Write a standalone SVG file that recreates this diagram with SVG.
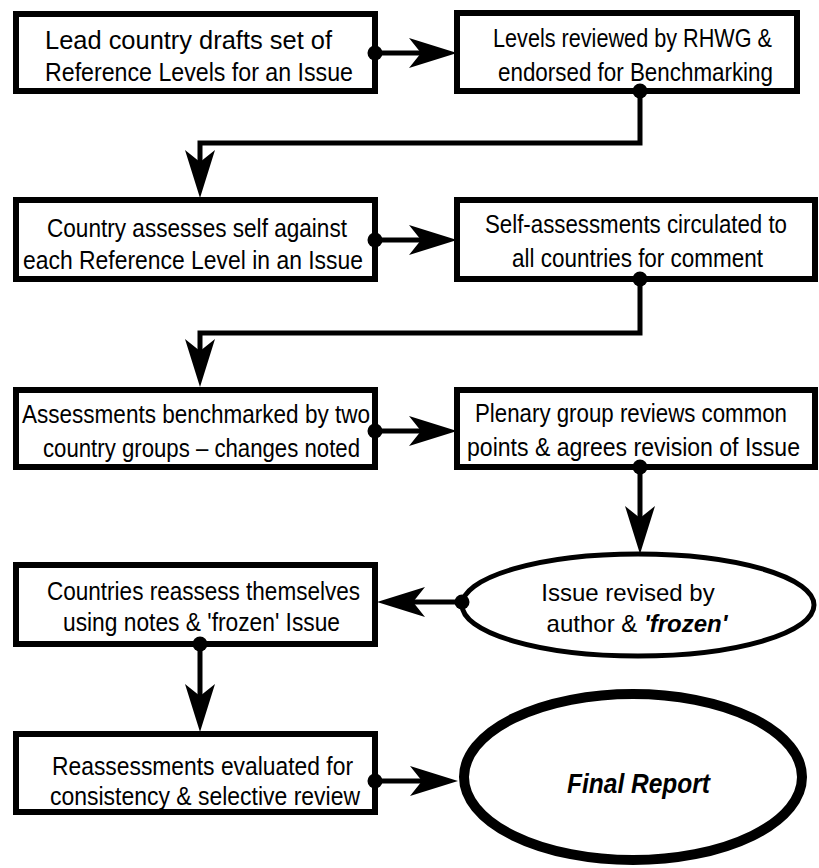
<svg xmlns="http://www.w3.org/2000/svg" width="819" height="868" viewBox="0 0 819 868">
<style>
  .box { fill: #fff; stroke: #000; stroke-width: 6; }
  .ell { fill: #fff; stroke: #000; stroke-width: 5; }
  .ellb { fill: #fff; stroke: #000; stroke-width: 10; }
  .t { font-family: "Liberation Sans", Arial, sans-serif; font-size: 25px; fill: #000; }
  .bi { font-weight: bold; font-style: italic; }
  .con { fill: none; stroke: #000; stroke-width: 5; marker-start: url(#dot); marker-end: url(#arr); }
</style>
<defs>
  <marker id="arr" markerUnits="userSpaceOnUse" markerWidth="52" markerHeight="34" viewBox="-20 -17 52 34" refX="0" refY="0" orient="auto" overflow="visible">
    <path d="M30,0 L-18,-15 L-6,0 L-18,15 Z" fill="#000"/>
  </marker>
  <marker id="dot" markerUnits="userSpaceOnUse" markerWidth="18" markerHeight="18" viewBox="-9 -9 18 18" refX="0" refY="0" orient="auto" overflow="visible">
    <circle cx="0" cy="0" r="7.5" fill="#000"/>
  </marker>
</defs>
<rect width="819" height="868" fill="#fff"/>

<g id="n1">
  <rect class="box" x="16" y="14" width="359" height="77"/>
  <text class="t" x="45" y="49" textLength="287" lengthAdjust="spacingAndGlyphs">Lead country drafts set of</text>
  <text class="t" x="45" y="81" textLength="308" lengthAdjust="spacingAndGlyphs">Reference Levels for an Issue</text>
</g>
<g id="n2">
  <rect class="box" x="457" y="13" width="340" height="78"/>
  <text class="t" x="493" y="47" textLength="279" lengthAdjust="spacingAndGlyphs">Levels reviewed by RHWG &amp;</text>
  <text class="t" x="498" y="81" textLength="275" lengthAdjust="spacingAndGlyphs">endorsed for Benchmarking</text>
</g>
<g id="n3">
  <rect class="box" x="16" y="200" width="359" height="79"/>
  <text class="t" x="47" y="237" textLength="300" lengthAdjust="spacingAndGlyphs">Country assesses self against</text>
  <text class="t" x="23" y="269" textLength="340" lengthAdjust="spacingAndGlyphs">each Reference Level in an Issue</text>
</g>
<g id="n4">
  <rect class="box" x="457" y="200" width="358" height="79"/>
  <text class="t" x="485" y="233" textLength="302" lengthAdjust="spacingAndGlyphs">Self-assessments circulated to</text>
  <text class="t" x="512" y="267" textLength="251" lengthAdjust="spacingAndGlyphs">all countries for comment</text>
</g>
<g id="n5">
  <rect class="box" x="16" y="390" width="359" height="77"/>
  <text class="t" x="22" y="423" textLength="348" lengthAdjust="spacingAndGlyphs">Assessments benchmarked by two</text>
  <text class="t" x="43" y="457" textLength="317" lengthAdjust="spacingAndGlyphs">country groups – changes noted</text>
</g>
<g id="n6">
  <rect class="box" x="457" y="390" width="358" height="77"/>
  <text class="t" x="475" y="422" textLength="312" lengthAdjust="spacingAndGlyphs">Plenary group reviews common</text>
  <text class="t" x="467" y="456" textLength="333" lengthAdjust="spacingAndGlyphs">points &amp; agrees revision of Issue</text>
</g>
<g id="n7">
  <ellipse class="ell" cx="638" cy="605" rx="176" ry="51"/>
  <text class="t" x="628" y="601" text-anchor="middle" style="font-size:24px">Issue revised by</text>
  <text class="t" x="637" y="632" text-anchor="middle" style="font-size:24px">author &amp; <tspan class="bi">'frozen'</tspan></text>
</g>
<g id="n8">
  <rect class="box" x="16" y="565" width="359" height="79"/>
  <text class="t" x="47" y="600" textLength="313" lengthAdjust="spacingAndGlyphs">Countries reassess themselves</text>
  <text class="t" x="63" y="631" textLength="277" lengthAdjust="spacingAndGlyphs">using notes &amp; 'frozen' Issue</text>
</g>
<g id="n9">
  <rect class="box" x="16" y="734" width="359" height="78"/>
  <text class="t" x="52" y="775" textLength="301" lengthAdjust="spacingAndGlyphs">Reassessments evaluated for</text>
  <text class="t" x="50" y="805" textLength="310" lengthAdjust="spacingAndGlyphs">consistency &amp; selective review</text>
</g>
<g id="n10">
  <ellipse class="ellb" cx="633" cy="777" rx="169" ry="83"/>
  <text class="t bi" x="567" y="793" style="font-size:28px" textLength="143" lengthAdjust="spacingAndGlyphs">Final Report</text>
</g>

<g id="connectors">
  <path class="con" d="M375,53 H427"/>
  <path class="con" d="M640,91 V143 H200 V168"/>
  <path class="con" d="M375,240 H427"/>
  <path class="con" d="M640,279 V333 H200 V357"/>
  <path class="con" d="M375,431 H427"/>
  <path class="con" d="M640,467 V524"/>
  <path class="con" d="M462,602 H407"/>
  <path class="con" d="M200,644 V702"/>
  <path class="con" d="M375,781 H428"/>
</g>
</svg>
